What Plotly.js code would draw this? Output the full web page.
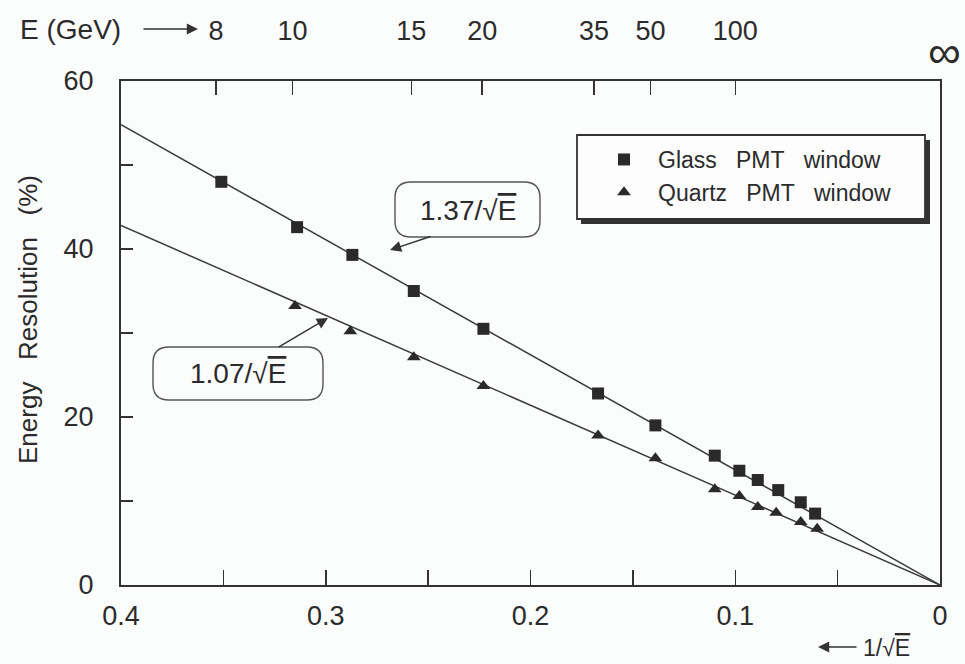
<!DOCTYPE html>
<html>
<head>
<meta charset="utf-8">
<script src="https://cdn.plot.ly/plotly-3.0.1.min.js"></script>
<style>
  html, body { margin: 0; padding: 0; background: #fbfcfc; }
  #chart { width: 965px; height: 664px; }
</style>
</head>
<body>
<div id="chart"></div>
<script>
// Measured resolution points, x = 1/sqrt(E), y = resolution in %
const glassX  = [0.351, 0.314, 0.287, 0.257, 0.223, 0.167, 0.139, 0.110, 0.098, 0.089, 0.079, 0.068, 0.061];
const glassY  = [48.0, 42.6, 39.3, 35.0, 30.5, 22.8, 19.0, 15.4, 13.6, 12.5, 11.3, 9.85, 8.5];
const quartzX = [0.315, 0.288, 0.257, 0.223, 0.167, 0.139, 0.110, 0.098, 0.089, 0.080, 0.068, 0.060];
const quartzY = [33.2, 30.2, 27.1, 23.7, 17.8, 15.1, 11.4, 10.6, 9.3, 8.6, 7.5, 6.7];

// Fit coefficients: sigma/E = c / sqrt(E)
const glassCoef  = 1.37;
const quartzCoef = 1.07;
const fitRange   = [0.4, 0];

// Energy scale shown along the top axis (GeV)
const topEnergies = [8, 10, 15, 20, 35, 50, 100];

// Bottom / left tick labels
const xTickVals = [0.4, 0.35, 0.3, 0.25, 0.2, 0.15, 0.1, 0.05, 0];
const xTickText = ['0.4', '', '0.3', '', '0.2', '', '0.1', '', '0'];
const yTickVals = [0, 10, 20, 30, 40, 50, 60];
const yTickText = ['0', '', '20', '', '40', '', '60'];

// ---- page geometry (plot frame in pixels) ----
const W = 965, H = 664;
const L = 121, R = 940, T = 81, B = 585;
const pw = R - L, ph = B - T;
const px = v => (v - L) / pw;
const py = v => (B - v) / ph;

function roundRect(x0, y0, x1, y1, r) {
  const pt = (x, y) => px(x).toFixed(5) + ',' + py(y).toFixed(5);
  return 'M' + pt(x0 + r, y0) +
         ' L' + pt(x1 - r, y0) + ' Q' + pt(x1, y0) + ' ' + pt(x1, y0 + r) +
         ' L' + pt(x1, y1 - r) + ' Q' + pt(x1, y1) + ' ' + pt(x1 - r, y1) +
         ' L' + pt(x0 + r, y1) + ' Q' + pt(x0, y1) + ' ' + pt(x0, y1 - r) +
         ' L' + pt(x0, y0 + r) + ' Q' + pt(x0, y0) + ' ' + pt(x0 + r, y0) + ' Z';
}

const FONT = 'Liberation Sans, Arial, Helvetica, sans-serif';
const INK = '#2b2b2b';
const LINE = '#3a3a3a';

const fitLine = c => fitRange.map(x => c * 100 * x);

const traces = [
  { x: fitRange, y: fitLine(glassCoef), mode: 'lines', showlegend: false,
    line: { color: LINE, width: 1.5 }, hoverinfo: 'skip' },
  { x: fitRange, y: fitLine(quartzCoef), mode: 'lines', showlegend: false,
    line: { color: LINE, width: 1.5 }, hoverinfo: 'skip' },
  { x: glassX, y: glassY, mode: 'markers', name: 'Glass\u00A0\u00A0 PMT\u00A0\u00A0 window',
    marker: { symbol: 'square', size: 12, color: '#2a2a2a' } },
  { x: quartzX, y: quartzY, mode: 'markers', name: 'Quartz\u00A0\u00A0 PMT\u00A0\u00A0 window',
    marker: { symbol: 'triangle-up', size: 12, color: '#2a2a2a' } },
  // registers the top energy axis
  { x: [], y: [], xaxis: 'x2', yaxis: 'y', showlegend: false, hoverinfo: 'skip' }
];

const shapes = [
  // legend frame with drop shadow
  { type: 'rect', xref: 'paper', yref: 'paper', layer: 'above',
    x0: px(581), x1: px(930), y0: py(140), y1: py(224),
    fillcolor: '#333', line: { width: 0 } },
  { type: 'rect', xref: 'paper', yref: 'paper', layer: 'above',
    x0: px(577), x1: px(925), y0: py(135), y1: py(219),
    fillcolor: '#fdfdfd', line: { color: '#333', width: 1.8 } },
  // rounded label boxes for the fits
  { type: 'path', xref: 'paper', yref: 'paper', layer: 'above',
    path: roundRect(395, 182, 540, 237, 16), line: { color: '#555', width: 1.4 } },
  { type: 'path', xref: 'paper', yref: 'paper', layer: 'above',
    path: roundRect(153, 347, 323, 400, 16), line: { color: '#555', width: 1.4 } }
];

const sqrtE = '\u221A<span style="text-decoration:overline">E</span>';

const label = (cx, cy, text, size, extra) => Object.assign({
  xref: 'paper', yref: 'paper', x: px(cx), y: py(cy),
  xanchor: 'center', yanchor: 'middle', text: text, showarrow: false,
  font: { family: FONT, size: size, color: INK }
}, extra || {});

const arrow = (hx, hy, tx, ty) => ({
  xref: 'paper', yref: 'paper', x: px(hx), y: py(hy), ax: tx - hx, ay: ty - hy,
  xanchor: 'center', yanchor: 'middle',
  text: '', showarrow: true, arrowhead: 2, arrowsize: 1.6, arrowwidth: 1.4,
  arrowcolor: '#333', standoff: 0, startstandoff: 0
});

const annotations = [
  label(28, 320, 'Energy\u00A0\u00A0 Resolution\u00A0\u00A0 (%)', 26, { textangle: -90 }),
  label(70, 30, 'E (GeV)', 28),
  arrow(198, 29, 142, 29),
  label(944, 52, '\u221E', 46),
  label(886, 648, '1/' + sqrtE, 23),
  arrow(818, 647, 858, 647),
  label(468, 210, '1.37/' + sqrtE, 28),
  label(238, 374, '1.07/' + sqrtE, 28),
  arrow(390, 250, 432, 236),
  arrow(328, 318, 277, 348)
];

const layout = {
  width: W, height: H,
  margin: { l: L, r: W - R, t: T, b: H - B, pad: 0 },
  paper_bgcolor: '#fbfcfc', plot_bgcolor: '#fbfcfc',
  font: { family: FONT, color: INK },
  showlegend: true,
  legend: {
    x: px(590), y: py(138), xanchor: 'left', yanchor: 'top',
    bgcolor: 'rgba(0,0,0,0)', borderwidth: 0, itemwidth: 58,
    font: { family: FONT, size: 23, color: INK }
  },
  xaxis: {
    range: [0.4, 0], autorange: false, tickmode: 'array',
    tickvals: xTickVals, ticktext: xTickText,
    ticks: 'inside', ticklen: 15, tickwidth: 1.5, tickcolor: '#333',
    showline: true, linewidth: 2, linecolor: '#333', mirror: false,
    showgrid: false, zeroline: false, ticklabelstandoff: 6,
    tickfont: { family: FONT, size: 27, color: INK }
  },
  xaxis2: {
    overlaying: 'x', side: 'top', anchor: 'y',
    range: [0.4, 0], autorange: false, tickmode: 'array',
    tickvals: topEnergies.map(e => 1 / Math.sqrt(e)),
    ticktext: topEnergies.map(String),
    ticks: 'inside', ticklen: 14, tickwidth: 1.5, tickcolor: '#333',
    showline: true, linewidth: 2, linecolor: '#333',
    showgrid: false, zeroline: false, ticklabelstandoff: 28,
    tickfont: { family: FONT, size: 27, color: INK }
  },
  yaxis: {
    range: [0, 60], autorange: false, tickmode: 'array',
    tickvals: yTickVals, ticktext: yTickText,
    ticks: 'inside', ticklen: 12, tickwidth: 1.5, tickcolor: '#333',
    showline: true, linewidth: 2, linecolor: '#333', mirror: true,
    showgrid: false, zeroline: false, ticklabelstandoff: 20,
    tickfont: { family: FONT, size: 27, color: INK }
  },
  shapes: shapes,
  annotations: annotations
};

Plotly.newPlot('chart', traces, layout, { displayModeBar: false, staticPlot: true });
</script>
</body>
</html>
